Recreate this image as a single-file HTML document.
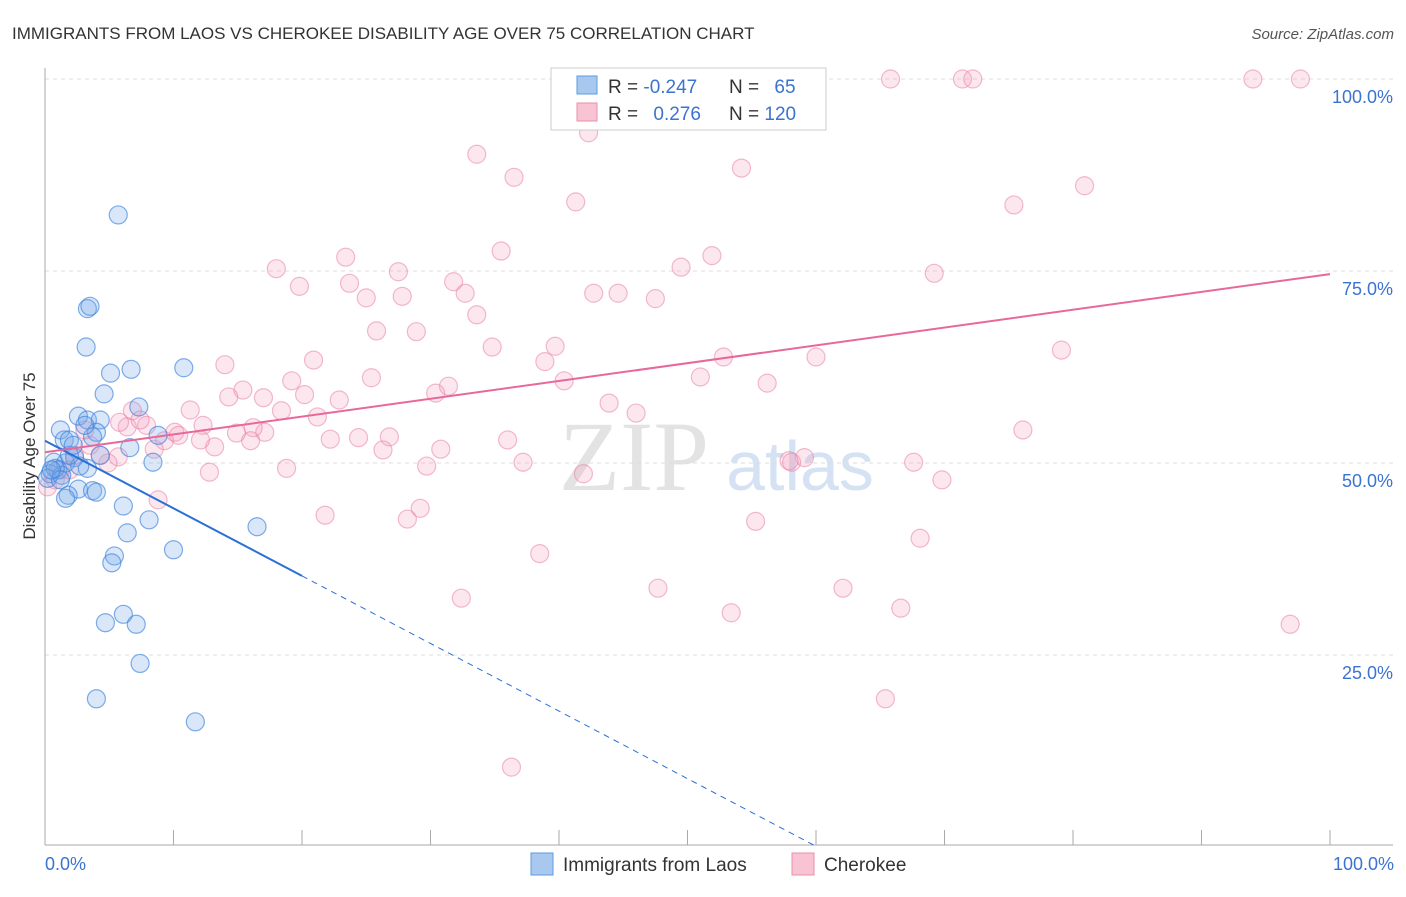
<!DOCTYPE html>
<html><head><meta charset="utf-8"><style>
body{margin:0;background:#fff;font-family:"Liberation Sans",sans-serif;}
</style></head><body>
<svg id="chart" width="1406" height="892" xmlns="http://www.w3.org/2000/svg" font-family="Liberation Sans, sans-serif">
<text x="12" y="39" font-size="17" fill="#333">IMMIGRANTS FROM LAOS VS CHEROKEE DISABILITY AGE OVER 75 CORRELATION CHART</text>
<text x="1394" y="39" font-size="15" fill="#555" font-style="italic" text-anchor="end">Source: ZipAtlas.com</text>
<text x="634" y="490" font-size="100" fill="#e3e3e3" font-family="Liberation Serif, serif" text-anchor="middle">ZIP</text>
<text x="800" y="490" font-size="70" fill="#d5e2f3" text-anchor="middle">atlas</text>
<g id="grid"></g><g id="pts"></g><g id="lines"></g>
<text x="35" y="456" font-size="17" fill="#333" transform="rotate(-90 35 456)" text-anchor="middle">Disability Age Over 75</text>
<g>
<rect x="551" y="68" width="275" height="62" fill="#fff" stroke="#ccc"/>
<rect x="577" y="76" width="20" height="18" fill="#a8c8f0" stroke="#5b9be0"/>
<rect x="577" y="103" width="20" height="18" fill="#f8c3d3" stroke="#e991ad"/>
<text x="608" y="93" font-size="19" fill="#333">R = <tspan fill="#3b73d0">-0.247</tspan></text>
<text x="729" y="93" font-size="19" fill="#333">N = <tspan fill="#3b73d0" dx="10">65</tspan></text>
<text x="608" y="120" font-size="19" fill="#333">R = <tspan fill="#3b73d0" dx="10">0.276</tspan></text>
<text x="729" y="120" font-size="19" fill="#333">N = <tspan fill="#3b73d0">120</tspan></text>
</g>
<g>
<rect x="531" y="853" width="22" height="22" fill="#a8c8f0" stroke="#5b9be0"/>
<text x="563" y="871" font-size="19" fill="#333">Immigrants from Laos</text>
<rect x="792" y="853" width="22" height="22" fill="#f8c3d3" stroke="#e991ad"/>
<text x="824" y="871" font-size="19" fill="#333">Cherokee</text>
</g>
<text x="45" y="870" font-size="18" fill="#3b73d0">0.0%</text>
<text x="1394" y="870" font-size="18" fill="#3b73d0" text-anchor="end">100.0%</text>
</svg>
<script>
const yTicks=[100,75,50,25];
const yTickLabels=["100.0%","75.0%","50.0%","25.0%"];
const xTicks=[0,10,20,30,40,50,60,70,80,90,100];
const laosX=[5.7,3.3,3.5,3.2,10.8,6.7,5.1,4.6,7.3,2.6,3.3,4.3,1.2,4.0,8.8,1.5,1.9,3.7,6.6,4.3,2.3,0.7,8.4,1.6,3.3,2.7,1.0,0.4,0.2,1.3,2.6,3.7,4.0,1.8,6.1,8.1,6.4,16.5,10.0,5.4,5.2,6.1,4.7,7.1,7.4,4.0,11.7,0.8,1.2,0.5,1.9,3.1,2.2,1.6];
const laosY=[82.3,70.1,70.4,65.1,62.4,62.2,61.7,59.0,57.3,56.1,55.6,55.6,54.3,54.0,53.6,53.0,53.0,53.4,52.0,51.0,50.7,50.1,50.1,50.0,49.3,49.6,49.1,48.6,48.0,48.4,46.6,46.4,46.2,45.8,44.4,42.6,40.9,41.7,38.7,37.9,37.0,30.3,29.2,29.0,23.9,19.3,16.3,49.3,47.8,49.1,51.0,54.9,52.3,45.4];
const cherX=[65.8,71.4,72.2,94.0,97.7,42.3,33.6,54.2,36.5,41.3,80.9,75.4,35.5,23.4,49.5,51.9,18.0,27.5,69.2,19.8,23.7,31.8,32.7,42.7,44.6,25.0,27.8,47.5,33.6,25.8,28.9,34.8,39.7,79.1,52.8,60.0,14.0,20.9,38.9,19.2,25.4,51.0,40.4,56.2,15.4,31.4,22.9,14.3,20.2,30.4,17.0,6.8,11.3,18.4,43.9,21.2,46.0,6.4,12.3,7.9,10.1,17.1,14.9,16.2,76.1,10.4,22.2,24.4,26.8,36.0,9.3,13.2,16.0,3.5,26.3,30.8,8.5,5.7,4.9,37.2,58.1,59.1,67.6,57.9,29.7,18.8,12.8,41.9,69.8,8.8,29.2,21.8,28.2,55.3,68.1,38.5,62.1,47.7,32.4,53.4,66.6,96.9,65.4,36.3,0.2,1.2,2.3,4.3,7.4,0.8,1.9,3.1,5.8,12.1];
const cherY=[100,100,100,100,100,93.0,90.2,88.4,87.2,84.0,86.1,83.6,77.6,76.8,75.5,77.0,75.3,74.9,74.7,73.0,73.4,73.6,72.1,72.1,72.1,71.5,71.7,71.4,69.3,67.2,67.1,65.1,65.2,64.7,63.8,63.8,62.8,63.4,63.2,60.7,61.1,61.2,60.7,60.4,59.5,60.0,58.2,58.6,58.9,59.1,58.5,56.8,56.9,56.8,57.8,56.0,56.5,54.7,54.9,54.9,54.0,54.0,53.9,54.6,54.3,53.6,53.1,53.3,53.4,53.0,52.9,52.1,52.9,52.3,51.7,51.8,51.8,50.8,50.0,50.1,50.1,50.7,50.1,50.3,49.6,49.3,48.8,48.6,47.8,45.2,44.1,43.2,42.7,42.4,40.2,38.2,33.7,33.7,32.4,30.5,31.1,29.0,19.3,10.4,46.9,49.1,51.0,51.0,55.6,47.8,49.1,54.3,55.3,53.0];
const laosTrend=[52.9,-0.88];
const cherTrend=[51.4,0.232];
const NS="http://www.w3.org/2000/svg";
const sx=v=>45+v*12.85, sy=v=>847-v*7.68;
function mk(tag,attrs,parent){const e=document.createElementNS(NS,tag);for(const k in attrs)e.setAttribute(k,attrs[k]);parent.appendChild(e);return e;}
const grid=document.getElementById('grid');
yTicks.forEach((t,i)=>{
 const l=mk('line',{x1:45,x2:1393,y1:sy(t),y2:sy(t),stroke:'#ddd','stroke-dasharray':'4,4'},grid);
 
 
 const tx=mk('text',{x:1393,y:sy(t)+24,'font-size':18,fill:'#3b73d0','text-anchor':'end'},grid);
 tx.textContent=yTickLabels[i];
 
 
});
const ax=mk('line',{x1:45,x2:1393,y1:845,y2:845,stroke:'#aaa'},grid);


const ay=mk('line',{x1:45,x2:45,y1:68,y2:845,stroke:'#aaa'},grid);


xTicks.forEach(t=>{
 const l=mk('line',{x1:sx(t),x2:sx(t),y1:830,y2:845,stroke:'#aaa'},grid);
 
 
});
const pts=document.getElementById('pts');
cherX.forEach((x,i)=>{
 const c=mk('circle',{cx:sx(x),cy:sy(cherY[i]),r:9,fill:'rgba(245,160,190,0.25)',stroke:'rgba(233,130,165,0.55)','stroke-width':1.2},pts);
 
 
});
laosX.forEach((x,i)=>{
 const c=mk('circle',{cx:sx(x),cy:sy(laosY[i]),r:9,fill:'rgba(120,170,235,0.28)',stroke:'rgba(60,130,220,0.65)','stroke-width':1.2},pts);
 
 
});
const lines=document.getElementById('lines');
const lt=x=>laosTrend[0]+laosTrend[1]*x, ct=x=>cherTrend[0]+cherTrend[1]*x;
const l1=mk('line',{x1:sx(0),y1:sy(lt(0)),x2:sx(20),y2:sy(lt(20)),stroke:'#2a6fd6','stroke-width':2},lines);


const xEnd=-laosTrend[0]/laosTrend[1];
const l2=mk('line',{x1:sx(20),y1:sy(lt(20)),x2:sx(xEnd),y2:sy(0),stroke:'#2a6fd6','stroke-width':1,'stroke-dasharray':'6,5'},lines);


const l3=mk('line',{x1:sx(0),y1:sy(ct(0)),x2:sx(100),y2:sy(ct(100)),stroke:'#e8689a','stroke-width':2},lines);


</script>
</body></html>
